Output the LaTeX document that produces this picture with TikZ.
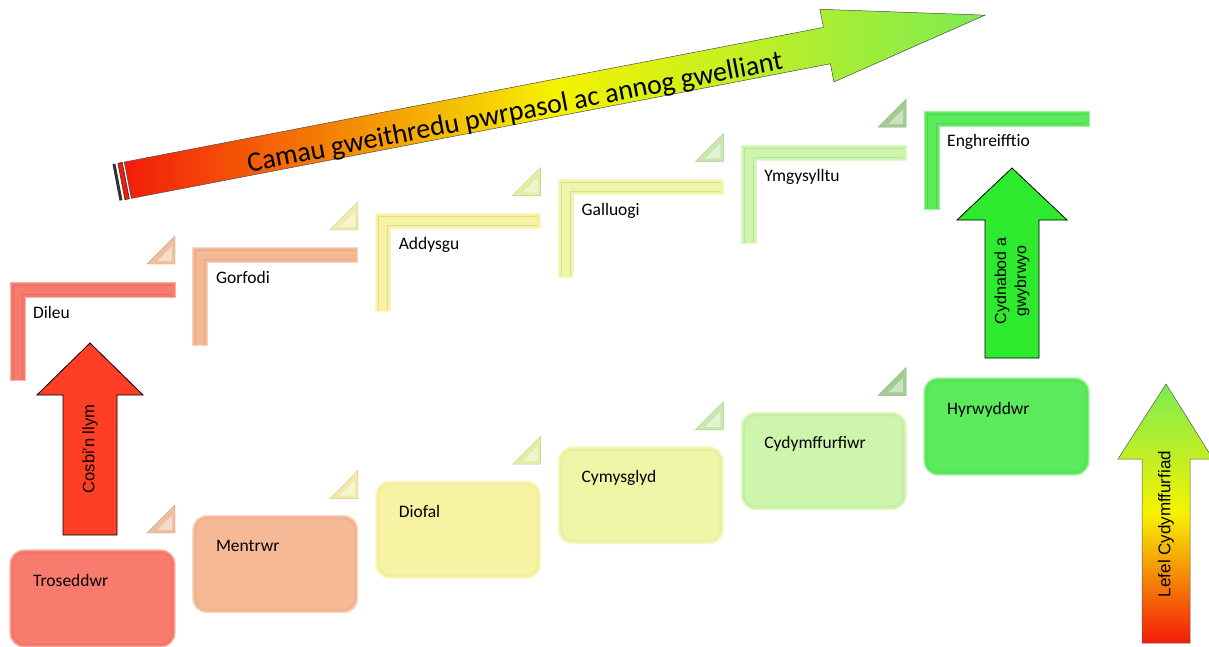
\documentclass[tikz,border=0pt]{standalone}
\usepackage{fontspec}
\setmainfont{Carlito}
\newfontfamily\arrowfont{Liberation Sans}
\usepackage{tikz}
\usetikzlibrary{positioning}

\definecolor{lvlA}{HTML}{F97B6E}
\definecolor{lvlB}{HTML}{F6B996}
\definecolor{lvlC}{HTML}{F8F3A3}
\definecolor{lvlD}{HTML}{EEF6A8}
\definecolor{lvlE}{HTML}{CDF5AB}
\definecolor{lvlF}{HTML}{5BEA5B}
\definecolor{triA}{HTML}{EEBE9E}
\definecolor{triB}{HTML}{F0EBAA}
\definecolor{triC}{HTML}{E1EEA4}
\definecolor{triD}{HTML}{C9E9AC}
\definecolor{triE}{HTML}{A2CC92}
\definecolor{redArr}{HTML}{FF3E26}
\definecolor{greenArr}{HTML}{2EEA2E}
\definecolor{gradRed}{HTML}{F31B0A}
\definecolor{gradYel}{HTML}{F6F200}
\definecolor{gradGreen}{HTML}{7DEB52}

\begin{document}
\begin{tikzpicture}[x=1pt, y=-1pt,
    box/.style={rectangle, rounded corners=14pt, draw=#1!55!white, line width=1.2pt,
                fill=#1, minimum width=165pt, minimum height=97pt, inner sep=0pt},
    lbl/.style={anchor=base west, inner sep=0pt, font=\fontsize{17.5}{21}\selectfont},
    uparrow/.style={draw=black, line width=0.8pt, line join=miter}]
    \useasboundingbox (0,0) rectangle (1209,647);

    % Bottom row - level boxes
    \foreach \i/\txt/\col in {0/Troseddwr/lvlA, 1/Mentrwr/lvlB, 2/Diofal/lvlC,
                              3/Cymysglyd/lvlD, 4/Cydymffurfiwr/lvlE, 5/Hyrwyddwr/lvlF} {
        \pgfmathsetmacro{\xl}{10+182.8*\i}
        \pgfmathsetmacro{\yt}{550-34.4*\i}
        \node[box=\col] (lvl\i) at (\xl+82.5, \yt+48.5) {};
        \draw[\col!85!black, opacity=0.18, line width=2pt, rounded corners=11pt]
            (\xl+3, \yt+3) rectangle (\xl+162, \yt+94);
        \node[lbl] (lvl\i-txt) at (\xl+23, \yt+36) {\txt};
    }

    % Top row - action brackets
    \foreach \i/\txt/\col in {0/Dileu/lvlA, 1/Gorfodi/lvlB, 2/Addysgu/lvlC,
                              3/Galluogi/lvlD, 4/Ymgysylltu/lvlE, 5/Enghreifftio/lvlF} {
        \pgfmathsetmacro{\xl}{10+182.8*\i}
        \pgfmathsetmacro{\yt}{282-34.2*\i}
        \filldraw[fill=\col, draw=\col!60!white, line width=0.8pt]
            (\xl, \yt) -- ++(165,0) -- ++(0,15) -- ++(-150,0) -- ++(0,83) -- ++(-15,0) -- cycle;
        \draw[\col!80!black, line width=0.7pt, opacity=0.45]
            (\xl+3, \yt+97) -- (\xl+3, \yt+3) -- (\xl+162, \yt+3)
            (\xl+162, \yt+12) -- (\xl+12, \yt+12) -- (\xl+12, \yt+97);
        \node[lbl] (act\i) at (\xl+23, \yt+36) {\txt};
    }

    % Step triangles (top and bottom rows)
    \foreach \i/\col in {0/triA, 1/triB, 2/triC, 3/triD, 4/triE} {
        \pgfmathsetmacro{\xr}{175+182.8*\i}
        \foreach \yb in {282-34.2*\i-18, 550-34.4*\i-17} {
            \filldraw[fill=\col, draw=\col!85!black, line width=0.4pt]
                (\xr-28, \yb) -- (\xr, \yb) -- (\xr, \yb-28) -- cycle;
            \fill[\col!55!white] (\xr-18, \yb-3) -- (\xr-3, \yb-3) -- (\xr-3, \yb-18) -- cycle;
        }
    }

    % Vertical arrows
    \filldraw[uparrow, fill=redArr] (90,343) -- (143,395) -- (117,395) -- (117,535)
        -- (63,535) -- (63,395) -- (37,395) -- cycle;
    \node[rotate=90, font=\arrowfont\fontsize{16.5}{19}\selectfont] (harsh) at (90,449) {Cosbi'n llym};

    \filldraw[uparrow, fill=greenArr] (1012,168) -- (1067,220) -- (1039,220) -- (1039,358)
        -- (985,358) -- (985,220) -- (957,220) -- cycle;
    \node[rotate=90, align=center, font=\arrowfont\fontsize{16}{20}\selectfont] (reward) at (1012,281)
        {Cydnabod a\\gwybrwyo};

    \shade[bottom color=gradRed, top color=gradGreen, middle color=gradYel, draw=gray!70!black, line width=0.5pt]
        (1166,384) -- (1213,459) -- (1190,459) -- (1190,643) -- (1142,643) -- (1142,459) -- (1118,459) -- cycle;
    \node[rotate=90, font=\arrowfont\fontsize{17}{20}\selectfont] (level) at (1166,524) {Lefel Cydymffurfiad};

    % Diagonal arrow
    \begin{scope}[shift={(116,182.5)}, rotate=10.9]
        \fill[gray!40!black] (0,-18.5) rectangle (3,18.5);
        \filldraw[fill=gradRed, draw=gray!40!black, line width=0.6pt] (5.5,-18.5) rectangle (10,18.5);
        \shade[left color=gradRed, right color=gradGreen, middle color=gradYel, draw=gray!60!black, line width=0.5pt]
            (12,-18.5) -- (724,-18.5) -- (724,-37) -- (885,0) -- (724,37) -- (724,18.5) -- (12,18.5) -- cycle;
        \node[transform shape, anchor=base, inner sep=0pt, font=\fontsize{28}{32}\selectfont] (goal) at (405,15)
            {Camau gweithredu pwrpasol ac annog gwelliant};
    \end{scope}
\end{tikzpicture}
\end{document}
